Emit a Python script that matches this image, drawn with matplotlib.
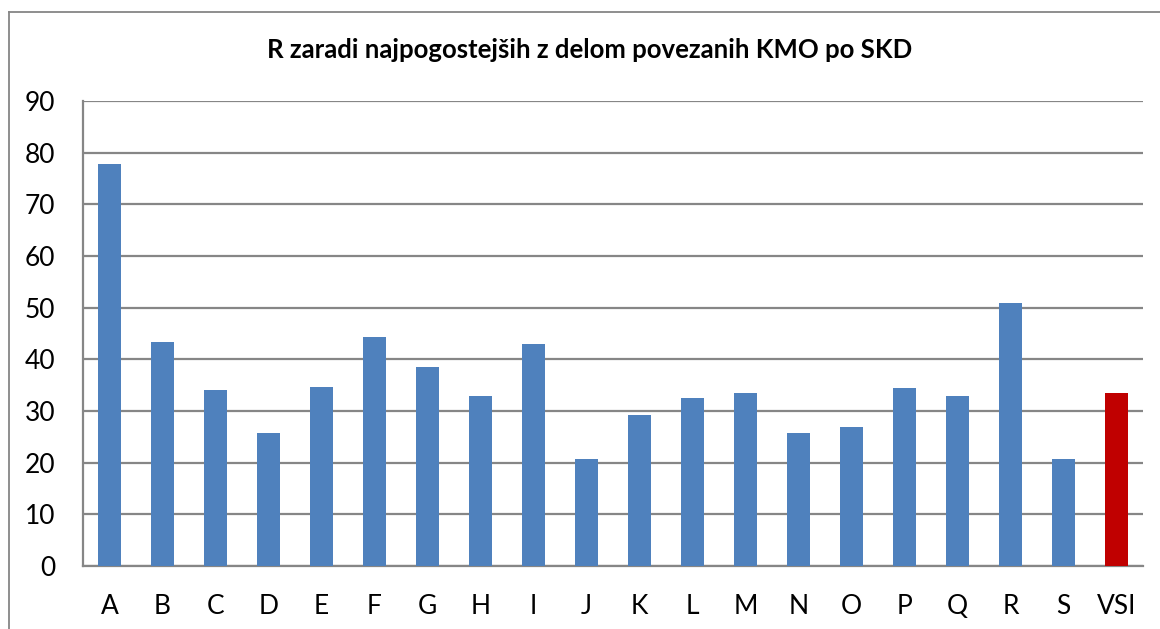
import matplotlib
matplotlib.use('Agg')
import matplotlib.pyplot as plt
from matplotlib.lines import Line2D

# data
categories = ['A', 'B', 'C', 'D', 'E', 'F', 'G', 'H', 'I', 'J',
              'K', 'L', 'M', 'N', 'O', 'P', 'Q', 'R', 'S', 'VSI']
values = [77.9, 43.4, 34.1, 25.7, 34.7, 44.3, 38.5, 32.9, 43.0, 20.7,
          29.2, 32.5, 33.5, 25.7, 27.0, 34.4, 32.9, 50.9, 20.7, 33.5]
yticks = [0, 10, 20, 30, 40, 50, 60, 70, 80, 90]
title = 'R zaradi najpogostejših z delom povezanih KMO po SKD'

plt.rcParams['font.family'] = ['Lato', 'DejaVu Sans']

W, H = 1160, 629
fig = plt.figure(figsize=(W / 100, H / 100), dpi=100)
# plot area in pixels: left 83, right 1143, top 101, bottom 566
ax = fig.add_axes([83 / W, 1 - 566 / H, 1060 / W, 465 / H])

colors = ['#4F81BD'] * (len(categories) - 1) + ['#C00000']
x = list(range(len(categories)))
ax.bar(x, values, width=0.42, color=colors, zorder=3)

ax.set_xlim(-0.5, len(categories) - 0.5)
ax.set_ylim(0, 90)
ax.set_yticks(yticks)
ax.set_xticks(x)
ax.set_xticklabels(categories)
ax.tick_params(axis='both', length=0, labelsize=19, colors='black')
ax.tick_params(axis='x', pad=20)
ax.tick_params(axis='y', pad=20)

ax.grid(axis='y', color='#868686', linewidth=1.6, zorder=0)
for s in ['top', 'right']:
    ax.spines[s].set_visible(False)
for s in ['left', 'bottom']:
    ax.spines[s].set_color('#868686')
    ax.spines[s].set_linewidth(1.6)

fig.text(590 / W, 1 - 58 / H, title, ha='center', va='baseline',
         fontsize=18.5, fontweight='bold')

# chart area border (left and top edges visible)
fig.add_artist(Line2D([9 / W, 9 / W], [0, 1 - 12 / H], transform=fig.transFigure,
                      color='#868686', linewidth=1.3))
fig.add_artist(Line2D([9 / W, 1], [1 - 12 / H, 1 - 12 / H], transform=fig.transFigure,
                      color='#868686', linewidth=1.3))

fig.savefig('out.png', dpi=100)
